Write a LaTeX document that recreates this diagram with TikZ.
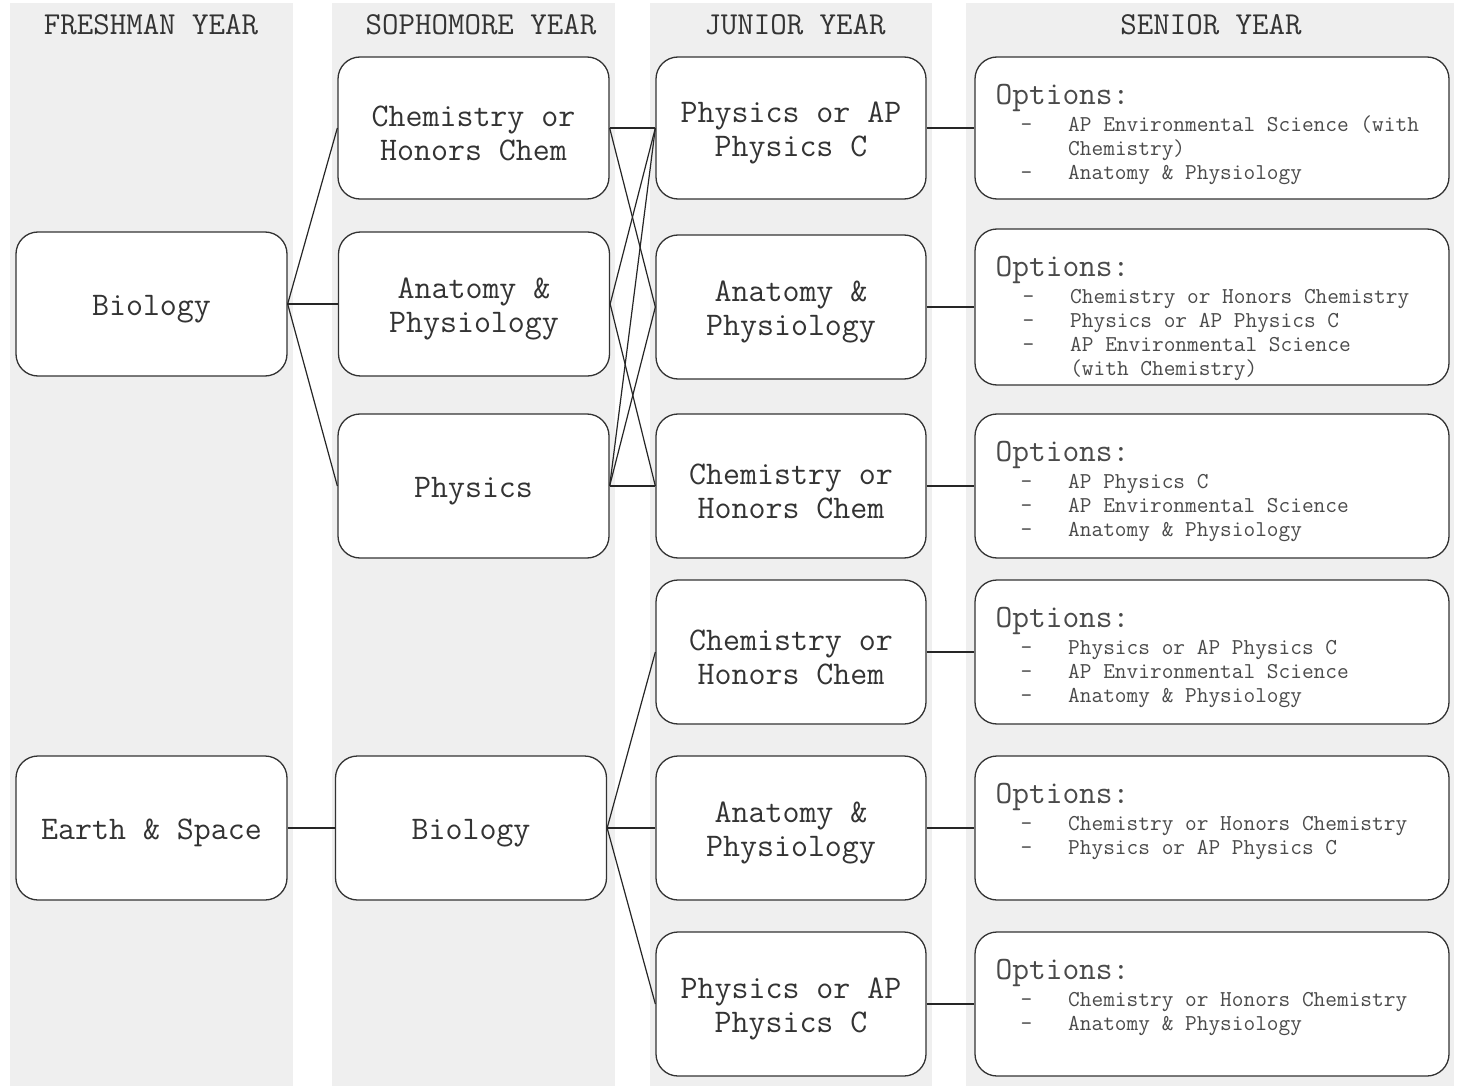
\documentclass[tikz,border=0pt]{standalone}
\usepackage{fontspec}
\usetikzlibrary{calc}
\definecolor{colbg}{HTML}{EFEFEF}
\definecolor{ink}{HTML}{333333}
\definecolor{optink}{HTML}{4A4A4A}
\newcommand\boxfont{\ttfamily\fontsize{33}{34}\selectfont}
\newcommand\hdfont{\ttfamily\fontsize{32}{34}\selectfont}
\newcommand\optfont{\ttfamily\fontsize{32.5}{34}\selectfont}
\newcommand\listfont{\ttfamily\fontsize{22.7}{24}\selectfont}
\newcommand\lowtext{\rule{0pt}{31pt}}
\newenvironment{optlist}{\listfont\renewcommand{\arraystretch}{1}\begin{tabular}[t]{@{\hspace{25pt}}l@{\hspace{36pt}}l@{}}}{\end{tabular}}
\tikzset{
  x=1pt, y=-1pt,
  course/.style={draw=ink, line width=1.3pt, fill=white, rounded corners=22pt,
    minimum width=271pt, minimum height=144pt, inner sep=0pt, align=center,
    font=\boxfont, text=ink},
  optbox/.style={draw=ink, line width=1.3pt, fill=white, rounded corners=22pt,
    minimum width=474pt, minimum height=144pt, inner sep=0pt},
  opttitle/.style={anchor=base west, inner sep=0pt, font=\optfont, text=optink},
  optbody/.style={anchor=base west, inner sep=0pt, text=optink},
  header/.style={anchor=base, inner sep=0pt, font=\hdfont, text=ink},
  edge/.style={draw=black!85, line width=1.2pt},
}
\begin{document}
\begin{tikzpicture}
\useasboundingbox (0,0) rectangle (1460,1086);
\fill[white] (0,0) rectangle (1460,1086);
% columns
\fill[colbg] (10,3) rectangle (293,1086);
\fill[colbg] (332,3) rectangle (615,1086);
\fill[colbg] (650,3) rectangle (932,1086);
\fill[colbg] (966,3) rectangle (1454,1086);
% headers
\node[header] (h1) at (151,35) {FRESHMAN YEAR};
\node[header] (h2) at (481,35) {SOPHOMORE YEAR};
\node[header] (h3) at (795,35) {JUNIOR YEAR};
\node[header] (h4) at (1211,35) {SENIOR YEAR};
% freshman
\node[course] (f1) at (151.5,304) {\lowtext Biology};
\node[course] (f2) at (151.5,828) {\lowtext Earth \& Space};
% sophomore
\node[course, minimum height=142pt] (s1) at (473.5,128) {\lowtext Chemistry or\\Honors Chem};
\node[course] (s2) at (474,304) {\lowtext Anatomy \&\\Physiology};
\node[course] (s3) at (473.5,486) {\lowtext Physics};
\node[course] (s4) at (471,828) {\lowtext Biology};
% junior
\node[course, minimum width=270pt, minimum height=142pt] (j1) at (791,128) {\lowtext Physics or AP\\Physics C};
\node[course, minimum width=270pt] (j2) at (791,307) {\lowtext Anatomy \&\\Physiology};
\node[course, minimum width=270pt] (j3) at (791,486) {\lowtext Chemistry or\\Honors Chem};
\node[course, minimum width=270pt] (j4) at (791,652) {\lowtext Chemistry or\\Honors Chem};
\node[course, minimum width=270pt] (j5) at (791,828) {\lowtext Anatomy \&\\Physiology};
\node[course, minimum width=270pt] (j6) at (791,1004) {\lowtext Physics or AP\\Physics C};
% senior
\node[optbox, minimum height=142pt] (o1) at (1212,128) {};
\node[optbox, minimum height=156pt] (o2) at (1212,307) {};
\node[optbox] (o3) at (1212,486) {};
\node[optbox] (o4) at (1212,652) {};
\node[optbox] (o5) at (1212,828) {};
\node[optbox] (o6) at (1212,1004) {};
\foreach \k in {1,...,6}{
  \node[opttitle] (t\k) at ($(o\k.north west)+(21,48)$) {Options:};
}
\node[optbody] (b1) at ($(o1.north west)+(21,75)$) {\begin{optlist}
- & AP Environmental Science (with\\
  & Chemistry)\\
- & Anatomy \& Physiology
\end{optlist}};
\node[optbody] (b2) at ($(o2.north west)+(23,75)$) {\begin{optlist}
- & Chemistry or Honors Chemistry\\
- & Physics or AP Physics C\\
- & AP Environmental Science\\
  & (with Chemistry)
\end{optlist}};
\node[optbody] (b3) at ($(o3.north west)+(21,75)$) {\begin{optlist}
- & AP Physics C\\
- & AP Environmental Science\\
- & Anatomy \& Physiology
\end{optlist}};
\node[optbody] (b4) at ($(o4.north west)+(21,75)$) {\begin{optlist}
- & Physics or AP Physics C\\
- & AP Environmental Science\\
- & Anatomy \& Physiology
\end{optlist}};
\node[optbody] (b5) at ($(o5.north west)+(21,75)$) {\begin{optlist}
- & Chemistry or Honors Chemistry\\
- & Physics or AP Physics C
\end{optlist}};
\node[optbody] (b6) at ($(o6.north west)+(21,75)$) {\begin{optlist}
- & Chemistry or Honors Chemistry\\
- & Anatomy \& Physiology
\end{optlist}};
% edges freshman -> sophomore
\draw[edge] (f1.east) -- (s1.west);
\draw[edge] (f1.east) -- (s2.west);
\draw[edge] (f1.east) -- (s3.west);
\draw[edge] (f2.east) -- (s4.west);
% sophomore -> junior
\draw[edge] (s1.east) -- (j1.west);
\draw[edge] (s1.east) -- (j2.west);
\draw[edge] (s2.east) -- (j1.west);
\draw[edge] (s2.east) -- (j3.west);
\draw[edge] (s3.east) -- (j1.west);
\draw[edge] (s3.east) -- (j2.west);
\draw[edge] (s3.east) -- (j3.west);
\draw[edge] (s4.east) -- (j4.west);
\draw[edge] (s4.east) -- (j5.west);
\draw[edge] (s4.east) -- (j6.west);
% junior -> senior
\foreach \k in {1,...,6}{
  \draw[edge] (j\k.east) -- (o\k.west);
}
\end{tikzpicture}
\end{document}
